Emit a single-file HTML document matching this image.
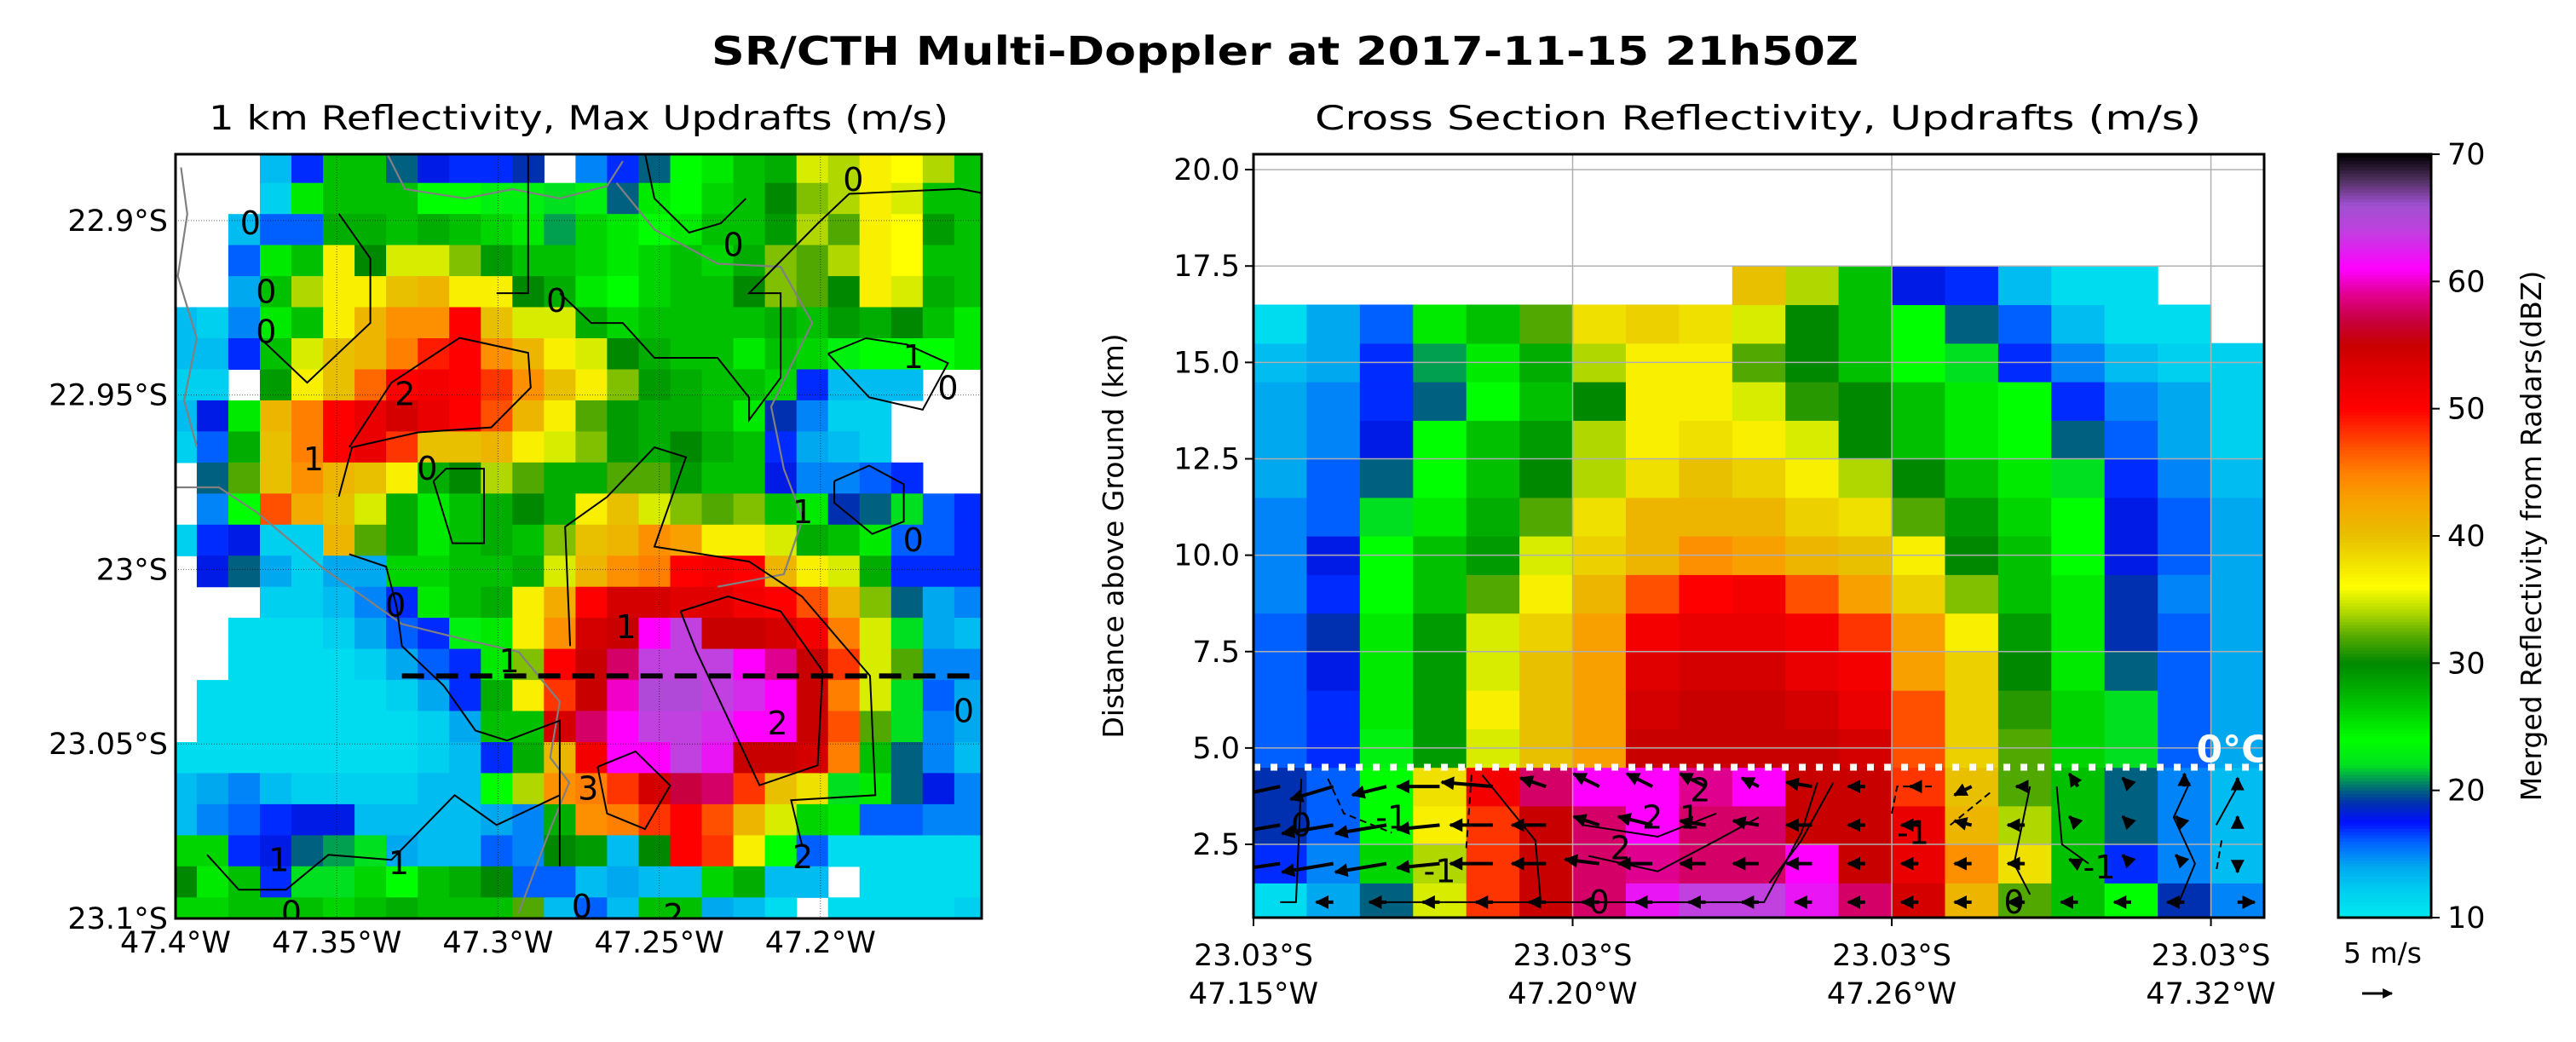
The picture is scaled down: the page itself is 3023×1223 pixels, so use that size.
<!DOCTYPE html>
<html><head><meta charset="utf-8">
<style>
html,body{margin:0;padding:0;background:#fff;}
svg{display:block;font-family:"DejaVu Sans","Liberation Sans",sans-serif;}
</style></head>
<body>
<svg id="fig" width="3023" height="1223" viewBox="0 0 3023 1223" xmlns="http://www.w3.org/2000/svg">
<defs>
<clipPath id="mapclip"><rect x="206" y="181" width="946" height="897"/></clipPath>
<clipPath id="xsclip"><rect x="1471" y="181" width="1186" height="896"/></clipPath>
<marker id="ah" viewBox="0 0 10 10" refX="9" refY="5" markerWidth="4" markerHeight="4" orient="auto"><path d="M0,0 L10,5 L0,10 z" fill="#000"/></marker>
</defs>
<g id="root"></g>
</svg>
<script>
// ---------- DATA ----------
const mapLonTicks = [-47.4, -47.35, -47.3, -47.25, -47.2];
const mapLonLabels = ["47.4°W","47.35°W","47.3°W","47.25°W","47.2°W"];
const mapLatTicks = [-22.9, -22.95, -23.0, -23.05, -23.1];
const mapLatLabels = ["22.9°S","22.95°S","23°S","23.05°S","23.1°S"];
const N = null;
const mapDbz = [
[N,N,N,13,17,27,27,20,18,17,17,19,N,15,17,20,24,25,27,28,35,34,37,36,34,27],
[N,N,N,12,25,27,27,27,24,24,23,23,22,23,20,25,24,26,27,30,33,34,37,35,27,27],
[N,N,13,16,16,28,28,27,28,27,26,25,21,26,25,24,25,27,27,29,34,32,37,36,29,27],
[N,N,16,25,27,37,30,35,35,33,29,27,27,26,25,26,27,26,28,33,32,34,37,36,27,27],
[N,N,14,27,34,37,37,40,41,37,37,30,28,25,24,26,27,27,30,33,32,30,37,35,28,27],
[13,12,15,25,27,37,41,44,44,50,40,35,35,28,26,27,27,27,27,28,27,29,28,30,27,25],
[13,13,17,27,35,40,41,45,49,50,44,41,37,35,30,28,27,27,25,27,26,23,24,24,24,25],
[12,12,N,29,37,40,46,50,51,50,48,44,40,37,33,29,28,27,27,26,17,13,13,13,N,N],
[13,18,25,41,45,50,52,54,52,50,47,41,37,32,29,28,28,27,25,19,15,12,12,N,N,N],
[12,16,28,40,45,50,52,48,40,40,41,37,35,33,29,28,30,28,27,17,14,13,12,N,N,N],
[N,20,32,40,44,41,40,37,28,30,34,32,28,28,32,32,29,27,27,18,15,15,16,17,N,N],
[N,15,24,47,42,40,35,28,25,27,28,30,28,37,40,35,33,32,33,27,25,19,20,22,16,17],
[12,17,18,12,12,41,32,28,25,27,28,27,33,40,41,44,43,37,37,35,28,27,25,16,16,17],
[N,18,20,14,12,14,14,26,26,27,27,28,35,41,44,45,50,51,50,41,37,35,28,17,17,17],
[N,N,N,12,12,13,15,17,25,27,28,37,42,50,54,54,53,53,51,50,47,41,33,20,14,15],
[N,N,11,11,11,12,14,16,17,23,25,37,44,54,55,61,64,55,55,54,51,45,35,22,14,13],
[N,N,11,11,11,11,12,14,16,17,25,33,50,55,58,64,64,64,61,59,55,48,35,32,15,15],
[N,11,11,11,11,11,11,12,14,17,28,37,48,55,60,65,65,64,63,61,55,45,35,22,16,14],
[N,11,11,11,11,11,11,11,12,14,27,27,54,58,61,64,64,63,61,61,55,47,32,22,15,14],
[11,11,11,11,11,11,11,11,12,13,17,28,41,51,61,61,64,62,55,55,54,45,27,20,15,13],
[13,14,15,13,12,12,12,12,13,13,24,34,44,45,48,54,57,58,48,40,38,22,25,20,18,15],
[13,15,16,17,18,18,13,13,13,13,14,15,28,44,45,48,50,47,41,35,26,25,16,16,15,15],
[26,26,17,18,20,21,22,14,13,13,16,15,30,29,13,30,50,48,37,24,16,11,11,11,11,11],
[30,25,27,17,22,22,26,24,27,28,30,16,16,13,14,13,13,26,28,13,13,N,11,11,11,11],
[26,26,27,27,27,26,27,28,27,27,27,32,13,16,13,27,27,14,13,11,N,11,11,11,11,12]
];
// contours in grid-cell units [col,row]
const mapContourSolid = [
[[5.83,9.51],[7.17,7.43],[9.33,5.99],[11.5,6.47],[11.58,7.59],[10.33,8.87],[8,9.03],[5.92,9.51],[5.5,11.1]],
[[12.83,15.91],[12.67,12.07],[14,11.11],[15.5,9.51],[16.5,9.83],[15.5,12.71],[18.5,13.19],[20.17,14.31],[22.33,16.87],[22.5,20.71],[19.83,20.87],[20.17,22.3]],
[[16.33,14.79],[17.83,14.31],[19.5,14.79],[20.83,16.71],[20.67,19.75],[18.83,20.39],[16.83,16.07],[16.33,14.79]],
[[5.83,12.95],[7,13.35],[7.33,14.63],[7.5,15.91],[8.83,17.19],[9.83,18.63],[10.83,18.95],[12.5,18.31],[12.5,23]],
[[1.33,22.63],[2.33,23.75],[3.83,23.75],[5.17,22.63],[7.17,22.79],[9.17,20.71],[10.5,21.67],[12.5,20.71]],
[[10.5,4.55],[11.5,4.55],[11.5,0.07]],
[[12.5,4.55],[13.5,5.51],[14.5,5.51],[15.5,6.63],[17.5,6.63],[18.5,7.91],[18.5,8.63],[19.5,7.27],[19.5,4.55],[18.5,4.55],[20.67,2.31],[21.67,1.35],[25.17,1.19],[26,1.35]],
[[5.5,1.99],[6.5,3.43],[6.5,5.51],[4.5,7.43],[3,5.99]],
[[15.2,0.05],[15.5,1.5],[16.6,2.6],[17.6,2.3],[18.4,1.5]],
[[21,6.5],[22.2,6],[23.5,6.2],[24.8,6.8],[24,8.3],[22.3,7.9],[21,6.5]],
[[8.5,10.6],[8.9,10.2],[10.1,10.2],[10.1,12.6],[9.1,12.6],[8.5,10.6]],
[[13.7,19.8],[14.9,19.3],[16,20.4],[15.2,21.8],[14,21.3],[13.7,19.8]],
[[21.2,10.6],[22.3,10.1],[23.4,10.7],[23.4,11.9],[22.4,12.3],[21.2,11.3],[21.2,10.6]]
];
const mapContourGray = [
[[0.2,10.8],[1.7,10.8],[2.9,11.6],[5,13.4],[7.5,15.2],[9.5,15.7],[11.2,16.1],[12.5,17.7],[12.2,19.5],[12.8,20.3],[12.2,21.8],[11.2,24.5]],
[[0.5,0.5],[0.7,2],[0.4,4],[1,6],[0.6,8],[1,9.5]],
[[7,0],[7.6,1.2],[9.5,1.5],[11,1.2],[12.5,1.5],[14,1.1],[14.5,0.3]],
[[14.3,1],[15.5,2.5],[17.5,3.6],[19.5,3.7],[20.5,5.5],[19.2,8.2],[19.6,10.2],[20.2,11.8],[19.6,13.6],[17.5,14]]
];
const mapLabels = [["0",2.7,2.3],["0",18,3],["0",21.8,0.9],["0",12.4,4.8],["0",3.2,4.5],["0",3.2,5.8],["2",7.6,7.8],["1",4.7,9.9],["0",8.3,10.2],["0",24.8,7.6],["1",20.2,11.6],["0",23.7,12.5],["0",7.3,14.6],["1",14.6,15.3],["1",10.9,16.4],["2",19.4,18.4],["0",25.3,18],["3",13.4,20.5],["1",3.6,22.8],["1",7.4,22.9],["0",4,24.5],["0",13.2,24.3],["2",16.1,24.6],["2",20.2,22.7],["1",23.7,6.6]];
const dashLat = 16.87;

const xsColTicks = [0, 6, 12, 18];
const xsColLabels1 = ["23.03°S","23.03°S","23.03°S","23.03°S"];
const xsColLabels2 = ["47.15°W","47.20°W","47.26°W","47.32°W"];
const xsYTicks = [2.5,5.0,7.5,10.0,12.5,15.0,17.5,20.0];
const xsYLabels = ["2.5","5.0","7.5","10.0","12.5","15.0","17.5","20.0"];
// rows from 1 km (index 0) to 17 km (index 16)
const xsDbz = [
[11,14,20,35,48,55,58,62,64,64,62,58,54,41,32,27,24,19,15],
[17,15,26,34,48,55,58,59,58,58,61,55,52,44,38,27,17,15,13],
[19,16,24,37,48,55,58,61,58,58,55,55,52,41,34,27,20,15,13],
[19,16,24,38,51,58,61,61,59,61,55,55,48,40,32,27,20,15,13],
[16,17,23,29,35,40,43,55,55,55,55,54,47,39,32,26,22,16,14],
[16,17,25,29,37,40,43,54,55,55,54,52,47,39,31,26,22,16,14],
[16,18,25,29,35,40,43,53,54,54,52,51,43,39,30,25,20,16,14],
[16,19,25,29,35,39,43,51,52,52,51,48,43,37,29,25,19,16,14],
[15,17,24,27,32,37,41,47,50,51,47,43,39,33,27,25,19,15,14],
[15,18,24,27,29,35,39,41,44,43,41,40,37,30,27,24,18,16,14],
[15,16,22,25,28,32,38,41,41,41,39,38,32,29,26,24,18,16,14],
[14,16,20,24,27,30,34,38,40,39,37,34,30,27,25,22,17,15,13],
[14,15,18,24,27,29,34,37,38,37,35,30,27,25,24,20,16,14,12],
[14,15,17,20,24,27,30,37,37,35,31,30,27,25,24,17,15,14,12],
[13,14,17,21,25,28,34,37,37,32,30,27,24,22,17,15,13,12,12],
[11,14,16,25,27,32,38,39,38,35,30,27,24,20,16,13,11,11,N],
[N,N,N,N,N,N,N,N,N,40,34,27,18,17,13,11,11,N,N]
];
const quivHeights = [1,2,3,4];
const quivU = [
[0,-2,-2,-2,-2,-2,-2,-2,-2,-2,-2,-2,-2,-2,-2,-2,-2,-2,2],
[-7,-6,-6,-5,-5,-4,-4,-4,-3,-3,-3,-2,-2,-2,-2,-1,-1,-1,0],
[-6,-6,-6,-5,-5,-4,-3,-4,-3,-3,-3,-2,-2,-2,-2,-1,-1,-1,0],
[-7,-5,-4,-5,-6,-3,-3,-3,-3,-2,-3,-2,-1,-2,-1,-1,-1,0,0]
];
const quivW = [
[0,0,0,0,0,0,0,0,0,0,0,0,0,0,0,0,0,0,0],
[-1,-1,-1,-0.5,0,0,0.5,0,0,0,0,0,0,0,0,0.5,1,1,-1],
[-1,-1,-1,-0.5,0,0,1,1,0.5,0.5,0,0,0,0.5,0,1,1,1,1],
[-1.5,-1.5,-1,0,0.5,1,1.5,1.5,1.5,1,0.5,0,0,-1,0,1.5,1,1.5,1]
];
const xsContours = [
[[2.2,1],[9.6,1],[10.3,2.8],[10.6,4.1]],
[[0.5,1],[0.8,1],[0.9,4.2]],
[[4.3,4.3],[5.3,2.6],[5.4,1]],
[[10.9,4.1],[10.3,2.6],[9.7,1.5]],
[[6.2,3],[7.6,2.7],[8.7,3.3]],
[[6.3,2.2],[7.6,1.8],[8.7,2.6],[9.5,3.2]],
[[14.6,1.2],[14.3,2],[14.6,4]],
[[15.1,4],[15.2,2.5],[15.7,2]],
[[17.4,1],[17.7,2],[17.3,3.2],[17.6,4.1]],
[[18.1,3],[18.5,4]]
];
const xsDashed = [
[[1.4,4.2],[1.7,3.3],[2.6,2.8]],
[[4.1,4.3],[4.0,2.4]],
[[12.0,3.3],[12.1,4.0],[12.8,4.0]],
[[13.1,3.0],[13.9,3.9]],
[[18.2,2.6],[18.1,1.8]]
];
const xsLabels = [["0",6.5,1],["0",14.3,1],["-1",2.6,3.2],["-1",3.5,1.8],["-1",12.4,2.8],["-1",15.9,1.9],["2",8.4,3.9],["2",6.9,2.4],["2",7.5,3.2],["1",8.2,3.2],["0",0.9,3.0]];

const cbTicks = [10,20,30,40,50,60,70];
const cmapStops = [[10,"#00e8ee"],[12,"#00d0f0"],[14,"#00a8f0"],[16,"#0060ff"],[17.5,"#0010ff"],[19,"#0030b0"],[20,"#006080"],[21,"#00a050"],[22,"#00e020"],[24,"#00ff00"],[27,"#00c000"],[30,"#008800"],[32,"#50a800"],[34,"#b0d800"],[36,"#ffff00"],[38,"#f0e000"],[40,"#e8c000"],[43,"#f8a000"],[45,"#ff8000"],[47,"#ff5000"],[50,"#ff0000"],[53,"#e00000"],[55,"#c80000"],[57,"#c80040"],[59,"#e00090"],[61,"#ff00ff"],[64,"#c040e0"],[66,"#a050d0"],[68,"#503060"],[70,"#000000"]];

// ---------- HELPERS ----------
const NS="http://www.w3.org/2000/svg";
const root=document.getElementById('root');
function mk(tag,attrs,parent){const e=document.createElementNS(NS,tag);for(const k in attrs)e.setAttribute(k,attrs[k]);(parent||root).appendChild(e);return e;}
function hex(h){return [parseInt(h.substr(1,2),16),parseInt(h.substr(3,2),16),parseInt(h.substr(5,2),16)];}
function cmap(v){
  if(v<=cmapStops[0][0])return cmapStops[0][1];
  for(let i=1;i<cmapStops.length;i++){
    if(v<=cmapStops[i][0]){const a=cmapStops[i-1],b=cmapStops[i];const t=(v-a[0])/(b[0]-a[0]);const ca=hex(a[1]),cb=hex(b[1]);
      return "rgb("+ca.map((c,k)=>Math.round(c+(cb[k]-c)*t)).join(",")+")";}
  }
  return cmapStops[cmapStops.length-1][1];
}
function txt(s,x,y,size,anchor,parent,extra){const t=mk('text',Object.assign({x:x,y:y,'font-size':size,'text-anchor':anchor||'middle',fill:'#000'},extra||{}),parent);t.textContent=s;return t;}

// ---------- TITLES ----------
const title=txt("SR/CTH Multi-Doppler at 2017-11-15 21h50Z",1508,76,46,'middle',root,{'font-weight':'bold','textLength':1346,'lengthAdjust':'spacingAndGlyphs'});


const st1=txt("1 km Reflectivity, Max Updrafts (m/s)",679,152,39,'middle',root,{'textLength':868,'lengthAdjust':'spacingAndGlyphs'});


const st2=txt("Cross Section Reflectivity, Updrafts (m/s)",2063,152,39,'middle',root,{'textLength':1040,'lengthAdjust':'spacingAndGlyphs'});



// ---------- MAP ----------
const MX0=206,MX1=1152,MY0=181,MY1=1078;
const lonMin=-47.4,lonMax=-47.15,latTop=-22.881,latBot=-23.1;
function lonX(l){return MX0+(l-lonMin)/(lonMax-lonMin)*(MX1-MX0);}
function latY(l){return MY0+(latTop-l)/(latTop-latBot)*(MY1-MY0);}
const CW=37.04,CH=36.46,CX0=230.9,CY0=214.7;
function gx(c){return CX0+CW*(c-1);}
function gy(r){return CY0+CH*(r-1);}
const mapG=mk('g',{'clip-path':'url(#mapclip)'});


mapDbz.forEach((row,i)=>row.forEach((v,j)=>{
  if(v===null)return;
  const r=mk('rect',{x:gx(j).toFixed(1),y:gy(i).toFixed(1),width:CW+0.6,height:CH+0.6,fill:cmap(v)},mapG);
  
  
}));
mapLonTicks.forEach(l=>{const g=mk('line',{x1:lonX(l),x2:lonX(l),y1:MY0,y2:MY1,stroke:'#000','stroke-width':1,'stroke-dasharray':'1,2',opacity:0.6},mapG);
  
  });
mapLatTicks.forEach(l=>{const g=mk('line',{x1:MX0,x2:MX1,y1:latY(l),y2:latY(l),stroke:'#000','stroke-width':1,'stroke-dasharray':'1,2',opacity:0.6},mapG);
  
  });
function pathFrom(pts,fx,fy){return pts.map((p,k)=>(k?'L':'M')+fx(p[0]).toFixed(1)+','+fy(p[1]).toFixed(1)).join(' ');}
mapContourGray.forEach(c=>{const p=mk('path',{d:pathFrom(c,gx,gy),fill:'none',stroke:'#808080','stroke-width':2.2},mapG);
  
  });
mapContourSolid.forEach(c=>{const p=mk('path',{d:pathFrom(c,gx,gy),fill:'none',stroke:'#000','stroke-width':2},mapG);
  
  });
mapLabels.forEach(l=>{const t=txt(l[0],gx(l[1]),gy(l[2])+13,38,'middle',mapG);
  
  });
const dl=mk('line',{x1:gx(7.5),x2:MX1,y1:gy(dashLat),y2:gy(dashLat),stroke:'#000','stroke-width':6,'stroke-dasharray':'26,14'},mapG);


const mframe=mk('rect',{x:MX0,y:MY0,width:MX1-MX0,height:MY1-MY0,fill:'none',stroke:'#000','stroke-width':3});


mapLonTicks.forEach((l,k)=>{const t=txt(mapLonLabels[k],lonX(l),1118,35,'middle');
  
  });
mapLatTicks.forEach((l,k)=>{const t=txt(mapLatLabels[k],197,latY(l)+12,35,'end');
  
  });

// ---------- CROSS SECTION ----------
const XX0=1471,XX1=2657,XY0=181,XY1=1077,NC=19,YMIN=0.6,YMAX=20.4;
function cx(c){return XX0+c/NC*(XX1-XX0);}
function ky(k){return XY1-(k-YMIN)/(YMAX-YMIN)*(XY1-XY0);}
const xsG=mk('g',{'clip-path':'url(#xsclip)'});


xsDbz.forEach((row,i)=>row.forEach((v,j)=>{
  if(v===null)return;
  const k=i+1;
  const r=mk('rect',{x:cx(j).toFixed(1),y:ky(k+0.5).toFixed(1),width:(cx(1)-cx(0)+0.6).toFixed(1),height:(ky(k-0.5)-ky(k+0.5)+0.6).toFixed(1),fill:cmap(v)},xsG);
  
  
}));
xsYTicks.forEach(v=>{const g=mk('line',{x1:XX0,x2:XX1,y1:ky(v),y2:ky(v),stroke:'#b0b0b0','stroke-width':1.5},xsG);
  
  });
xsColTicks.forEach(c=>{const g=mk('line',{x1:cx(c),x2:cx(c),y1:XY0,y2:XY1,stroke:'#b0b0b0','stroke-width':1.5},xsG);
  
  });
xsContours.forEach(c=>{const p=mk('path',{d:pathFrom(c,cx,ky),fill:'none',stroke:'#000','stroke-width':2},xsG);
  
  });
xsDashed.forEach(c=>{const p=mk('path',{d:pathFrom(c,cx,ky),fill:'none',stroke:'#000','stroke-width':2,'stroke-dasharray':'8,5'},xsG);
  
  });
const QS=10; // px per m/s
quivHeights.forEach((h,i)=>quivU[i].forEach((u,j)=>{
  const w=quivW[i][j];
  if(u===0&&w===0)return;
  const x1=cx(j+0.5),y1=ky(h),x2=x1+u*QS,y2=y1-w*QS;
  const a=mk('line',{x1:x1,y1:y1,x2:x2,y2:y2,stroke:'#000','stroke-width':4,'marker-end':'url(#ah)'},xsG);
  
  
}));
xsLabels.forEach(l=>{const t=txt(l[0],cx(l[1]),ky(l[2])+13,38,'middle',xsG);
  
  });
const fz=mk('line',{x1:XX0,x2:XX1,y1:ky(4.5),y2:ky(4.5),stroke:'#fff','stroke-width':8,'stroke-dasharray':'8,12'},xsG);


const fzt=txt("0°C",2620,ky(4.5)-6,44,'middle',xsG,{fill:'#fff','font-weight':'bold'});
fzt.setAttribute('fill','#fff');


const xframe=mk('rect',{x:XX0,y:XY0,width:XX1-XX0,height:XY1-XY0,fill:'none',stroke:'#000','stroke-width':3});


xsYTicks.forEach((v,k)=>{
  const tk=mk('line',{x1:XX0-10,x2:XX0,y1:ky(v),y2:ky(v),stroke:'#000','stroke-width':2});
  
  
  const t=txt(xsYLabels[k],XX0-16,ky(v)+12,35,'end');
  
  
});
xsColTicks.forEach((c,k)=>{
  const tk=mk('line',{x1:cx(c),x2:cx(c),y1:XY1,y2:XY1+10,stroke:'#000','stroke-width':2});
  
  
  const t1=txt(xsColLabels1[k],cx(c),1133,35,'middle');
  
  
  const t2=txt(xsColLabels2[k],cx(c),1178,35,'middle');
  
  
});
const yt=txt("Distance above Ground (km)",0,0,33,'middle',root,{transform:'translate(1318,629) rotate(-90)'});



// ---------- COLORBAR ----------
const BX0=2744,BX1=2853,BY0=181,BY1=1077;
function cbY(v){return BY1-(v-10)/60*(BY1-BY0);}
const cbG=mk('g',{});


for(let v=10;v<70;v+=0.25){
  const r=mk('rect',{x:BX0,y:cbY(v+0.25).toFixed(2),width:BX1-BX0,height:(cbY(v)-cbY(v+0.25)+0.5).toFixed(2),fill:cmap(v+0.125)},cbG);
  
  
}
const cbf=mk('rect',{x:BX0,y:BY0,width:BX1-BX0,height:BY1-BY0,fill:'none',stroke:'#000','stroke-width':3},cbG);


cbTicks.forEach(v=>{
  const tk=mk('line',{x1:BX1,x2:BX1+10,y1:cbY(v),y2:cbY(v),stroke:'#000','stroke-width':2},cbG);
  
  
  const t=txt(String(v),2872,cbY(v)+12,35,'start',cbG);
  
  
});
const cbl=txt("Merged Reflectivity from Radars(dBZ)",0,0,33,'middle',root,{transform:'translate(2982,629) rotate(-90)'});


const qk=txt("5 m/s",2796,1130,33,'middle');


const qa=mk('line',{x1:2772,y1:1166,x2:2772+5*QS/1.0*0.7,y2:1166,stroke:'#000','stroke-width':3,'marker-end':'url(#ah)'});


</script>
</body></html>
